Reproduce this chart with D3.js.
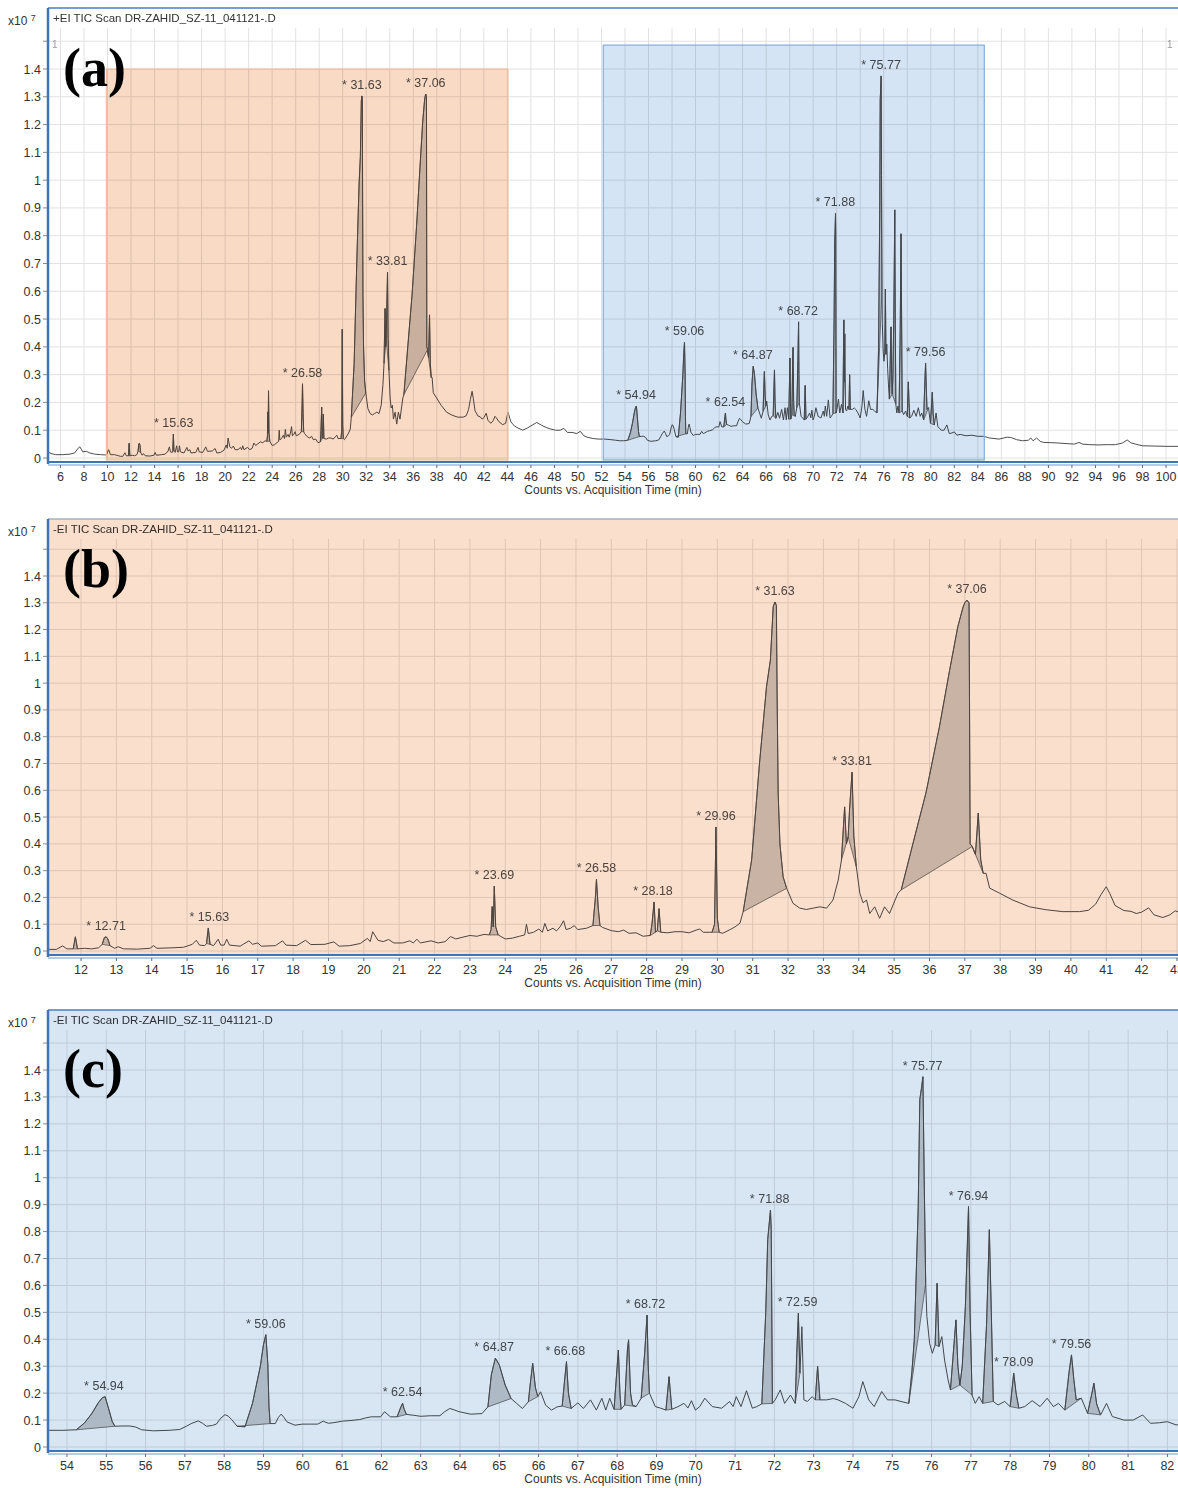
<!DOCTYPE html>
<html><head><meta charset="utf-8">
<script src="https://cdn.jsdelivr.net/npm/d3@7"></script>
<style>
body{margin:0;background:#fff}
svg{display:block}
text{font-family:Arial,"Liberation Sans",sans-serif}
</style>
</head><body>
<svg id="chart" width="1178" height="1488"></svg>
<script>
// ---------------- DATA ----------------
// TIC trace, [retention time (min), counts x10^7]
const tracePre = [[4.94,0.022],[5.2,0.016],[5.6,0.012],[6.2,0.012],[6.8,0.014],[7.2,0.018],[7.5,0.035],[7.65,0.04],[7.9,0.022],[8.2,0.024],[8.5,0.018],[8.9,0.014],[9.4,0.012],[9.9,0.011],[10.1,0.03],[10.25,0.012],[10.6,0.012],[10.95,0.008]];
const traceWindowB = [[11.1,0.006],[11.3,0.006],[11.48,0.019],[11.6,0.008],[11.78,0.008],[11.84,0.053],[11.9,0.008],[12.1,0.01],[12.3,0.008],[12.5,0.012],[12.6,0.025],[12.66,0.05],[12.71,0.053],[12.76,0.045],[12.82,0.02],[12.95,0.01],[13.05,0.016],[13.2,0.008],[13.6,0.007],[13.95,0.01],[14.05,0.02],[14.15,0.01],[14.6,0.012],[14.9,0.014],[15.15,0.025],[15.26,0.04],[15.35,0.022],[15.5,0.02],[15.55,0.028],[15.6,0.086],[15.65,0.025],[15.75,0.02],[15.88,0.044],[15.95,0.022],[16.05,0.022],[16.12,0.044],[16.2,0.022],[16.5,0.018],[16.75,0.038],[16.85,0.025],[17.0,0.03],[17.1,0.018],[17.5,0.02],[17.7,0.038],[17.8,0.022],[18.1,0.02],[18.35,0.04],[18.5,0.024],[18.9,0.025],[19.15,0.034],[19.3,0.018],[19.6,0.02],[19.9,0.028],[20.1,0.047],[20.18,0.035],[20.25,0.072],[20.4,0.04],[20.55,0.035],[20.7,0.043],[20.85,0.03],[21.1,0.03],[21.3,0.038],[21.4,0.03],[21.5,0.044],[21.6,0.03],[21.9,0.038],[22.1,0.03],[22.3,0.035],[22.45,0.054],[22.6,0.045],[22.75,0.05],[23.0,0.058],[23.2,0.055],[23.4,0.062],[23.55,0.06],[23.6,0.08],[23.63,0.166],[23.66,0.09],[23.69,0.242],[23.73,0.09],[23.8,0.06],[24.0,0.045],[24.2,0.048],[24.4,0.055],[24.55,0.06],[24.6,0.1],[24.65,0.065],[24.8,0.07],[24.95,0.082],[25.05,0.07],[25.12,0.103],[25.2,0.075],[25.35,0.085],[25.45,0.075],[25.55,0.09],[25.65,0.113],[25.72,0.08],[25.85,0.085],[25.95,0.095],[26.05,0.08],[26.3,0.085],[26.48,0.095],[26.55,0.2],[26.58,0.267],[26.63,0.16],[26.68,0.095],[26.75,0.088],[27.0,0.076],[27.2,0.072],[27.35,0.078],[27.5,0.066],[27.7,0.068],[27.9,0.055],[28.1,0.058],[28.15,0.1],[28.21,0.183],[28.25,0.07],[28.3,0.075],[28.35,0.158],[28.4,0.07],[28.6,0.068],[28.8,0.072],[29.0,0.072],[29.2,0.068],[29.4,0.078],[29.5,0.082],[29.6,0.07],[29.85,0.07],[29.92,0.1],[29.96,0.463],[30.0,0.12],[30.05,0.07],[30.15,0.066],[30.36,0.08],[30.5,0.09],[30.64,0.104],[30.73,0.147],[30.97,0.34],[31.2,0.713],[31.39,0.986],[31.5,1.086],[31.58,1.285],[31.63,1.303],[31.67,1.29],[31.69,0.96],[31.72,0.59],[31.77,0.4],[31.86,0.277],[31.96,0.234],[32.14,0.178],[32.33,0.16],[32.52,0.155],[32.71,0.16],[32.9,0.165],[33.09,0.16],[33.27,0.19],[33.42,0.265],[33.51,0.34],[33.6,0.538],[33.65,0.4],[33.7,0.426],[33.74,0.53],[33.81,0.668],[33.86,0.43],[33.93,0.315],[34.03,0.216],[34.12,0.18],[34.22,0.19],[34.31,0.14],[34.45,0.165],[34.59,0.122],[34.73,0.165],[34.87,0.14],[35.11,0.216],[35.2,0.228],[35.53,0.4],[35.9,0.59],[36.28,0.836],[36.57,1.048],[36.8,1.21],[36.95,1.284],[37.0,1.3],[37.06,1.31],[37.12,1.3],[37.15,0.4],[37.21,0.39],[37.3,0.36],[37.38,0.515],[37.45,0.34],[37.52,0.29],[37.6,0.29],[37.7,0.235],[37.98,0.216],[38.36,0.19],[38.83,0.165],[39.3,0.154],[39.77,0.147],[40.24,0.147],[40.5,0.152],[40.7,0.175],[40.85,0.21],[41.0,0.24],[41.1,0.215],[41.25,0.17],[41.5,0.151],[41.7,0.148],[41.85,0.14],[42.0,0.145],[42.2,0.161],[42.35,0.135],[42.6,0.125],[42.8,0.135],[42.95,0.15],[43.05,0.145]];
const traceMid = [[43.3,0.13],[43.6,0.12],[43.85,0.125],[44.05,0.165],[44.3,0.13],[44.6,0.115],[44.9,0.108],[45.3,0.1],[45.7,0.108],[46.1,0.118],[46.5,0.128],[46.9,0.118],[47.3,0.11],[47.7,0.104],[48.1,0.1],[48.5,0.1],[48.8,0.107],[49.1,0.092],[49.5,0.092],[49.9,0.088],[50.2,0.096],[50.5,0.08],[50.85,0.074],[51.3,0.07],[51.8,0.068],[52.3,0.068],[52.8,0.066],[53.2,0.064]];
const traceWindowC = [[53.56,0.062],[53.9,0.062],[54.24,0.064],[54.45,0.09],[54.63,0.124],[54.8,0.165],[54.9,0.183],[54.97,0.187],[55.07,0.137],[55.15,0.095],[55.22,0.077],[55.4,0.078],[55.6,0.078],[55.75,0.074],[55.9,0.064],[56.2,0.06],[56.6,0.062],[56.87,0.065],[57.05,0.078],[57.16,0.087],[57.34,0.097],[57.45,0.088],[57.55,0.077],[57.7,0.08],[57.8,0.085],[57.92,0.108],[58.02,0.12],[58.1,0.115],[58.19,0.102],[58.33,0.077],[58.53,0.075],[58.72,0.162],[58.92,0.3],[59.0,0.38],[59.06,0.417],[59.11,0.31],[59.14,0.15],[59.17,0.087],[59.3,0.087],[59.38,0.11],[59.45,0.122],[59.52,0.11],[59.6,0.093],[59.8,0.081],[59.99,0.085],[60.2,0.085],[60.38,0.085],[60.52,0.096],[60.65,0.088],[60.77,0.09],[61.01,0.096],[61.2,0.098],[61.45,0.102],[61.6,0.108],[61.74,0.112],[61.98,0.112],[62.08,0.131],[62.23,0.112],[62.4,0.112],[62.5,0.15],[62.54,0.162],[62.58,0.14],[62.64,0.121],[62.81,0.118],[63.0,0.114],[63.25,0.116],[63.49,0.116],[63.6,0.13],[63.74,0.143],[63.85,0.138],[63.98,0.131],[64.27,0.122],[64.56,0.124],[64.71,0.149],[64.8,0.27],[64.9,0.33],[65.0,0.305],[65.15,0.23],[65.3,0.18],[65.44,0.162],[65.59,0.143],[65.74,0.168],[65.8,0.25],[65.85,0.311],[65.92,0.22],[65.98,0.187],[66.05,0.205],[66.18,0.155],[66.33,0.137],[66.47,0.149],[66.6,0.152],[66.67,0.26],[66.71,0.317],[66.76,0.2],[66.83,0.143],[67.0,0.164],[67.14,0.143],[67.32,0.175],[67.47,0.137],[67.61,0.181],[67.71,0.137],[67.81,0.181],[67.92,0.14],[68.0,0.3],[68.03,0.36],[68.07,0.2],[68.1,0.14],[68.19,0.156],[68.26,0.36],[68.29,0.398],[68.34,0.2],[68.39,0.156],[68.48,0.15],[68.61,0.181],[68.7,0.35],[68.76,0.49],[68.79,0.3],[68.82,0.2],[68.97,0.15],[69.11,0.144],[69.24,0.137],[69.32,0.261],[69.39,0.14],[69.55,0.15],[69.7,0.162],[69.8,0.145],[69.89,0.172],[69.99,0.137],[70.1,0.15],[70.23,0.181],[70.42,0.15],[70.66,0.144],[70.86,0.169],[70.95,0.15],[71.03,0.187],[71.15,0.15],[71.29,0.209],[71.44,0.144],[71.55,0.15],[71.68,0.16],[71.78,0.5],[71.83,0.77],[71.9,0.88],[71.92,0.807],[71.95,0.162],[72.02,0.175],[72.15,0.212],[72.26,0.162],[72.41,0.193],[72.53,0.162],[72.57,0.35],[72.61,0.497],[72.65,0.274],[72.7,0.447],[72.75,0.175],[72.84,0.169],[72.96,0.187],[73.04,0.175],[73.1,0.3],[73.16,0.175],[73.33,0.175],[73.5,0.18],[73.62,0.175],[73.81,0.162],[74.0,0.144],[74.15,0.187],[74.25,0.243],[74.4,0.175],[74.54,0.15],[74.73,0.206],[74.88,0.175],[75.07,0.175],[75.22,0.169],[75.42,0.162],[75.5,0.28],[75.56,0.398],[75.66,0.893],[75.7,1.29],[75.74,1.33],[75.78,1.375],[75.81,1.017],[75.85,0.608],[75.88,0.485],[75.95,0.385],[76.02,0.348],[76.09,0.379],[76.14,0.608],[76.19,0.373],[76.26,0.41],[76.33,0.323],[76.42,0.249],[76.48,0.212],[76.58,0.4],[76.62,0.472],[76.67,0.3],[76.72,0.23],[76.78,0.3],[76.86,0.522],[76.94,0.893],[76.98,0.5],[77.03,0.193],[77.11,0.162],[77.21,0.187],[77.3,0.162],[77.4,0.46],[77.47,0.807],[77.52,0.5],[77.57,0.169],[77.69,0.156],[77.86,0.169],[78.0,0.15],[78.09,0.274],[78.15,0.2],[78.22,0.144],[78.37,0.15],[78.56,0.172],[78.76,0.15],[78.94,0.181],[79.1,0.15],[79.23,0.162],[79.39,0.137],[79.5,0.28],[79.56,0.342],[79.62,0.25],[79.68,0.175],[79.81,0.181],[79.97,0.125],[80.08,0.2],[80.13,0.237],[80.2,0.16],[80.3,0.119],[80.45,0.162],[80.6,0.113],[80.89,0.1],[81.13,0.1],[81.37,0.119],[81.57,0.088],[81.8,0.09],[82.0,0.094],[82.22,0.082]];
const tracePost = [[82.5,0.085],[83.0,0.08],[83.5,0.082],[84.0,0.078],[84.5,0.078],[85.0,0.072],[85.8,0.068],[86.5,0.075],[86.8,0.074],[87.3,0.066],[87.8,0.062],[88.3,0.064],[88.5,0.072],[88.7,0.062],[89.0,0.072],[89.3,0.06],[89.6,0.056],[90.3,0.055],[90.8,0.054],[91.5,0.052],[92.2,0.05],[92.6,0.056],[92.9,0.05],[93.5,0.048],[94.3,0.047],[95.0,0.048],[95.7,0.048],[96.3,0.054],[96.7,0.065],[97.0,0.055],[97.4,0.05],[98.0,0.044],[99.0,0.043],[100.0,0.042],[101.1,0.042]];

// integrated peaks [start, end] (min)
const integratedPeaks = [[11.78,11.9],[12.6,12.82],[15.55,15.65],[23.55,23.8],[26.48,26.68],[28.1,28.25],[28.3,28.4],[29.85,30.05],[30.73,31.96],[33.51,33.7],[33.7,33.93],[35.2,37.21],[37.21,37.52],
  [54.24,55.22],[58.33,59.17],[62.4,62.64],[64.71,65.3],[65.74,65.98],[66.6,66.83],[67.92,68.1],[68.19,68.48],[68.61,68.82],[69.24,69.39],[71.68,71.95],[72.53,72.65],[73.04,73.16],[75.42,75.85],[76.09,76.19],[76.48,76.72],[76.72,77.03],[77.3,77.57],[78.0,78.22],[79.39,79.81],[79.97,80.3]];

// peak labels per panel
const peakLabelsA = ["15.63","26.58","31.63","33.81","37.06","54.94","59.06","62.54","64.87","68.72","71.88","75.77","79.56"];
const peakLabelsB = ["12.71","15.63","23.69","26.58","28.18","29.96","31.63","33.81","37.06"];
const peakLabelsC = ["54.94","59.06","62.54","64.87","66.68","68.72","71.88","72.59","75.77","76.94","78.09","79.56"];

// axis windows and ticks
const windowA = [4.94, 101.02];
const windowB = [11.066, 43.03];
const windowC = [53.517, 82.27];
const xTicksA = [6,8,10,12,14,16,18,20,22,24,26,28,30,32,34,36,38,40,42,44,46,48,50,52,54,56,58,60,62,64,66,68,70,72,74,76,78,80,82,84,86,88,90,92,94,96,98,100];
const xTicksB = [12,13,14,15,16,17,18,19,20,21,22,23,24,25,26,27,28,29,30,31,32,33,34,35,36,37,38,39,40,41,42,43];
const xTicksC = [54,55,56,57,58,59,60,61,62,63,64,65,66,67,68,69,70,71,72,73,74,75,76,77,78,79,80,81,82];
const yTickValues = [0,0.1,0.2,0.3,0.4,0.5,0.6,0.7,0.8,0.9,1,1.1,1.2,1.3,1.4,1.5];
const yTickLabels = ["0","0.1","0.2","0.3","0.4","0.5","0.6","0.7","0.8","0.9","1","1.1","1.2","1.3","1.4",""];

// highlighted windows in panel (a): [start, end, top]
const zoomWindowB = [9.9, 44.05, 1.4];
const zoomWindowC = [52.15, 84.55, 1.486];

const panelIds = ["(a)","(b)","(c)"];
const panelTitles = ["+EI TIC Scan DR-ZAHID_SZ-11_041121-.D","-EI TIC Scan DR-ZAHID_SZ-11_041121-.D","-EI TIC Scan DR-ZAHID_SZ-11_041121-.D"];
const xAxisTitle = "Counts vs. Acquisition Time (min)";

// ---------------- DRAW ----------------
const trace = [].concat(tracePre, traceWindowB, traceMid, traceWindowC, tracePost);
const svg = d3.select("#chart");
const L = 48, R = 1178;
const ORANGE = "#f9dac5", BLUE = "#d5e4f4";

const layouts = [
  {frameTop:8,   axisY:462,  y0:458,  y14:69,   domain:windowA, ticks:xTicksA, labels:peakLabelsA, tint:null,   idY:86},
  {frameTop:519, axisY:955,  y0:951,  y14:576,  domain:windowB, ticks:xTicksB, labels:peakLabelsB, tint:"#fbdfcd", idY:587},
  {frameTop:1010,axisY:1451, y0:1447, y14:1070, domain:windowC, ticks:xTicksC, labels:peakLabelsC, tint:"#d8e6f4", idY:1087}
];

layouts.forEach((P, i) => {
  const g = svg.append("g");
  const x = d3.scaleLinear().domain(P.domain).range([L, R]);
  const y = d3.scaleLinear().domain([0, 1.4]).range([P.y0, P.y14]);
  const clipId = "clip" + i;
  svg.append("clipPath").attr("id", clipId).append("rect")
    .attr("x", L).attr("y", P.frameTop).attr("width", R - L).attr("height", P.axisY - P.frameTop);

  const plot = g.append("g").attr("clip-path", `url(#${clipId})`);
  plot.append("rect").attr("x", L).attr("y", P.frameTop).attr("width", R - L).attr("height", P.axisY - P.frameTop).attr("fill", "#fff");

  // grid
  const gridTop = P.frameTop + 20;
  plot.append("g").selectAll("line").data(P.ticks).join("line")
    .attr("x1", d => x(d)).attr("x2", d => x(d)).attr("y1", gridTop).attr("y2", P.axisY)
    .attr("stroke", "#e2e2e2").attr("stroke-width", 1);
  plot.append("g").selectAll("line").data(yTickValues).join("line")
    .attr("x1", L).attr("x2", R).attr("y1", d => y(d)).attr("y2", d => y(d))
    .attr("stroke", "#e2e2e2").attr("stroke-width", 1);

  // integrated peak areas
  const inView = p => p[1] >= P.domain[0] && p[0] <= P.domain[1];
  plot.append("g").selectAll("path").data(integratedPeaks.filter(inView)).join("path")
    .attr("d", pk => {
      const pts = trace.filter(d => d[0] >= pk[0] - 1e-9 && d[0] <= pk[1] + 1e-9);
      return "M" + pts.map(d => x(d[0]) + "," + y(d[1])).join("L") + "Z";
    })
    .attr("fill", "#cdcdcd").attr("stroke", "#5e5e5e").attr("stroke-width", 0.8).attr("stroke-linejoin", "round");

  // trace
  const line = d3.line().x(d => x(d[0])).y(d => y(d[1]));
  plot.append("path").datum(trace).attr("d", line)
    .attr("fill", "none").attr("stroke", "#4e4e4e").attr("stroke-width", 1);

  // peak labels
  plot.append("g").selectAll("text").data(P.labels).join("text")
    .attr("x", d => x(+d))
    .attr("y", d => {
      const near = trace.filter(p => Math.abs(p[0] - (+d)) <= 0.08);
      return y(d3.max(near, p => p[1])) - 7;
    })
    .attr("text-anchor", "middle").attr("font-size", 12.5).attr("fill", "#4d4d4d")
    .text(d => "* " + d);

  // title
  plot.append("text").attr("x", 53).attr("y", P.frameTop + 14).attr("font-size", 11.5).attr("fill", "#333").text(panelTitles[i]);

  if (i === 0) {
    plot.append("text").attr("x", 52).attr("y", 48).attr("font-size", 10).attr("fill", "#999").text("1");
    plot.append("text").attr("x", 1167).attr("y", 48).attr("font-size", 10).attr("fill", "#999").text("1");
    // highlighted windows
    [[zoomWindowB, ORANGE, "#efbf9f"], [zoomWindowC, BLUE, "#86acd6"]].forEach(([w, c, s]) => {
      plot.append("rect").attr("x", x(w[0])).attr("y", y(w[2])).attr("width", x(w[1]) - x(w[0])).attr("height", P.axisY - 2 - y(w[2]))
        .attr("fill", c).style("mix-blend-mode", "multiply");
      plot.append("rect").attr("x", x(w[0])).attr("y", y(w[2])).attr("width", x(w[1]) - x(w[0])).attr("height", P.axisY - 2 - y(w[2]))
        .attr("fill", "none").attr("stroke", s).attr("stroke-width", 1.2);
    });
  } else {
    plot.append("rect").attr("x", L).attr("y", P.frameTop).attr("width", R - L).attr("height", P.axisY - P.frameTop)
      .attr("fill", P.tint).style("mix-blend-mode", "multiply");
  }

  // frame
  g.append("line").attr("x1", L).attr("x2", R).attr("y1", P.frameTop).attr("y2", P.frameTop)
    .attr("stroke", i === 1 ? "#9fb3c8" : "#4a7cc0").attr("stroke-width", 1.5);
  g.append("line").attr("x1", L).attr("x2", L).attr("y1", P.frameTop).attr("y2", P.axisY + 2)
    .attr("stroke", "#3f74bb").attr("stroke-width", 2.5);
  g.append("line").attr("x1", L).attr("x2", R).attr("y1", P.axisY).attr("y2", P.axisY)
    .attr("stroke", "#3f74bb").attr("stroke-width", 2);
  g.append("line").attr("x1", L).attr("x2", R).attr("y1", P.axisY + 3).attr("y2", P.axisY + 3)
    .attr("stroke", "#6f97cc").attr("stroke-width", 1.2);

  // x ticks
  const xt = g.append("g");
  xt.selectAll("line").data(P.ticks).join("line")
    .attr("x1", d => x(d)).attr("x2", d => x(d)).attr("y1", P.axisY + 3).attr("y2", P.axisY + 6)
    .attr("stroke", "#666");
  xt.selectAll("text").data(P.ticks).join("text")
    .attr("x", d => x(d)).attr("y", P.axisY + 19).attr("text-anchor", "middle")
    .attr("font-size", 12.5).attr("fill", "#333").text(d => d);
  g.append("text").attr("x", 613).attr("y", P.axisY + 32).attr("text-anchor", "middle")
    .attr("font-size", 12).attr("fill", "#333").text(xAxisTitle);

  // y ticks
  const yt = g.append("g");
  yt.selectAll("line").data(yTickValues).join("line")
    .attr("x1", L - 5).attr("x2", L - 1).attr("y1", d => y(d)).attr("y2", d => y(d)).attr("stroke", "#888");
  yt.selectAll("text").data(yTickValues).join("text")
    .attr("x", L - 7).attr("y", d => y(d) + 4.5).attr("text-anchor", "end")
    .attr("font-size", 12.5).attr("fill", "#333").text((d, k) => yTickLabels[k]);

  // x10^7
  const ex = g.append("text").attr("x", 8).attr("y", P.frameTop + 17).attr("font-size", 12).attr("fill", "#333");
  ex.append("tspan").text("x10 ");
  ex.append("tspan").attr("dy", -4).attr("font-size", 9).text("7");

  // panel id
  g.append("text").attr("x", 63).attr("y", P.idY)
    .style("font-family", "'Liberation Serif','Times New Roman',serif")
    .attr("font-weight", "bold").attr("font-size", 54).attr("fill", "#000").text(panelIds[i]);
});
</script>
</body></html>
